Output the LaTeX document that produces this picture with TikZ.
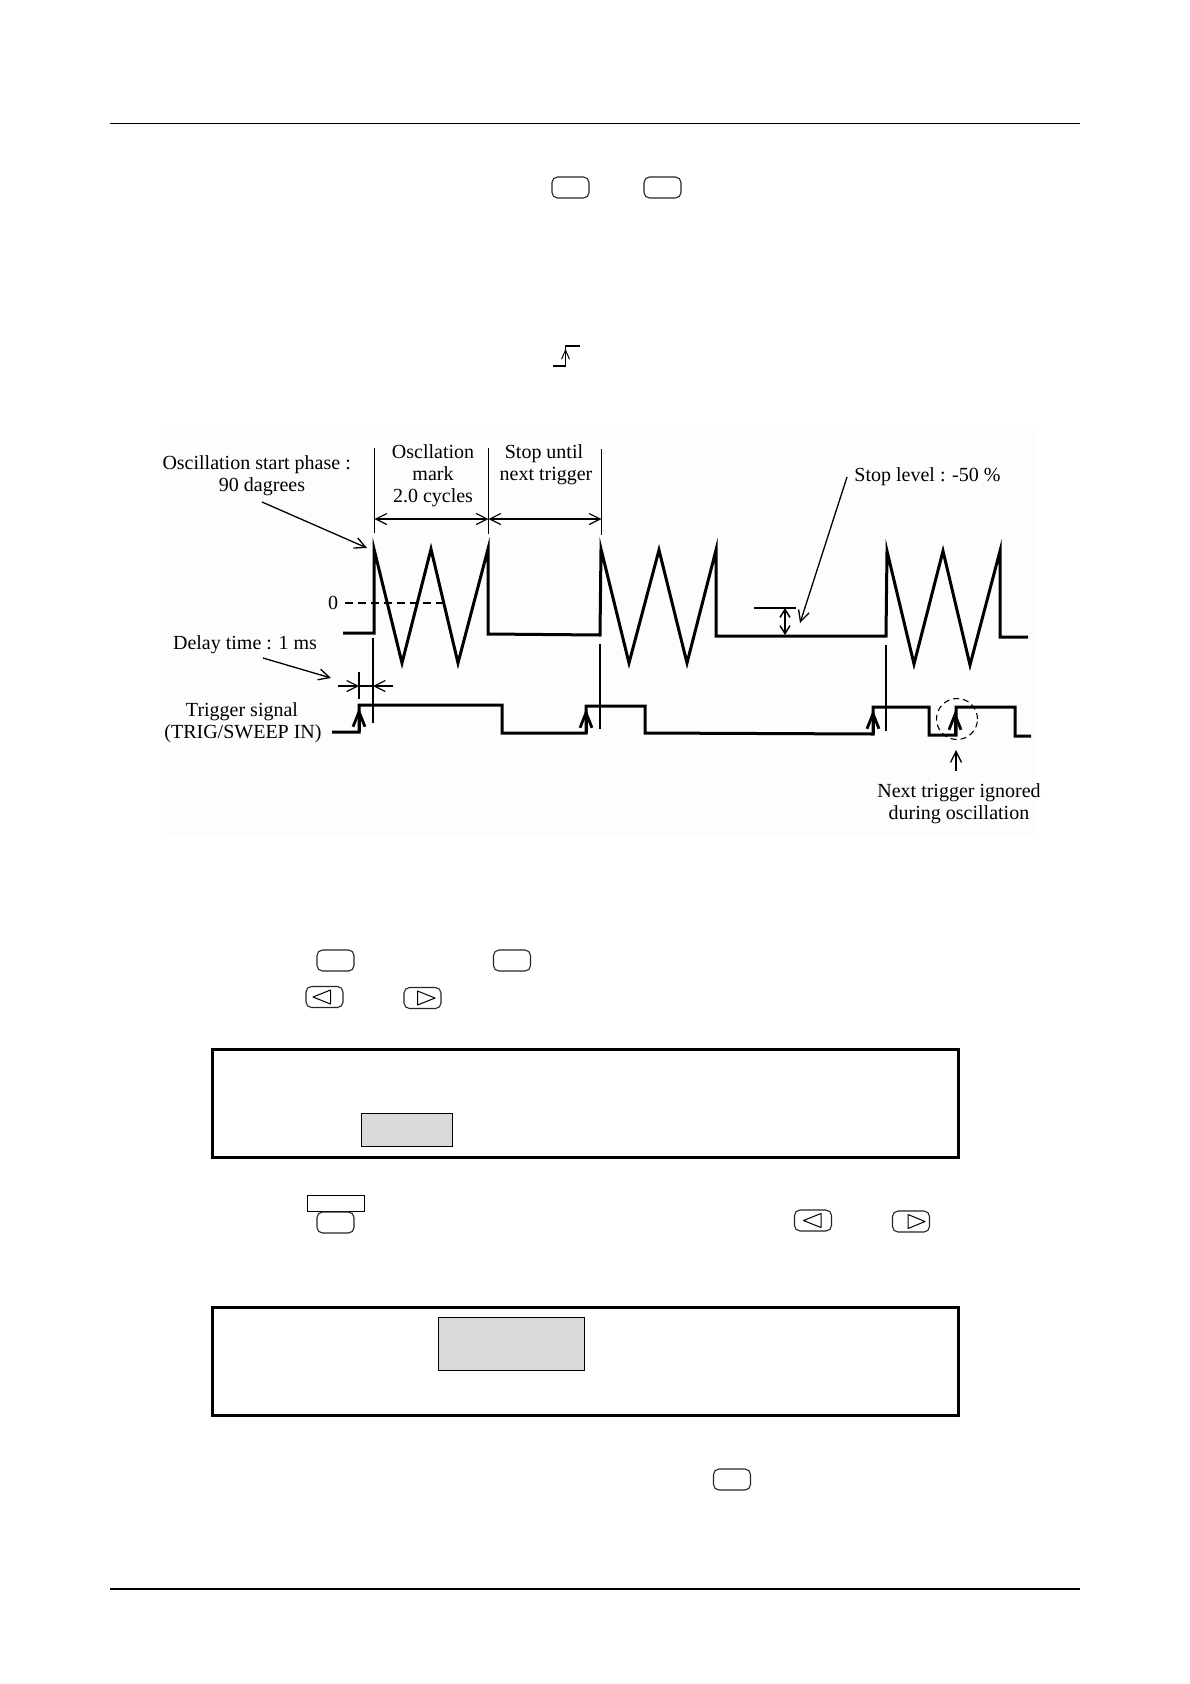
\documentclass[tikz,border=0pt]{standalone}
\usepackage{fontspec}
\setmainfont{Liberation Serif}
\usetikzlibrary{arrows.meta}
\tikzset{
  lbl/.style={inner sep=0pt,align=center,font=\fontsize{20}{22}\selectfont},
  thinline/.style={line width=1.2pt,black},
  pointer/.style={line width=1.3pt,black,-{Straight Barb[length=11pt,width=11pt,line width=1.3pt]}},
  dimline/.style={line width=1.2pt,black,{Straight Barb[length=11pt,width=11pt,line width=1.2pt]}-{Straight Barb[length=11pt,width=11pt,line width=1.2pt]}},
  wave/.style={line width=3pt,black,line join=miter,miter limit=10},
  trigtip/.style={line width=3pt,black,-{Straight Barb[length=15pt,width=12pt,line width=2.8pt]}},
  keycap/.style={draw=black!85,line width=1.1pt,rounded corners=5.5pt,minimum width=37pt,minimum height=21pt,inner sep=0pt,fill=white},
  lcdbox/.style={draw=black,line width=2.8pt,inner sep=0pt,minimum width=745.5pt,minimum height=107.5pt},
  hilite/.style={draw=black,line width=0.9pt,fill=black!15,inner sep=0pt},
  rule/.style={line width=1.2pt,black}
}
\begin{document}
\begin{tikzpicture}[x=1pt,y=-1pt]
\useasboundingbox (0,0) rectangle (1190,1684);
\fill[white] (0,0) rectangle (1190,1684);
\fill[black!0.6] (161,430) rectangle (1036,835);

% page rules
\coordinate (ruleTL) at (110,123.5); \coordinate (ruleTR) at (1080,123.5);
\coordinate (ruleBL) at (110,1589); \coordinate (ruleBR) at (1080,1589);
\draw[rule] (ruleTL) -- (ruleTR);
\draw[rule] (ruleBL) -- (ruleBR);

% key caps, top
\node[keycap] (keyA) at (570.5,187.5) {};
\node[keycap] (keyB) at (662.5,187.5) {};

% rising edge icon
\coordinate (edgeA) at (553,366);
\coordinate (edgeB) at (565.5,366);
\coordinate (edgeC) at (565.5,346);
\coordinate (edgeD) at (580,346);
\draw[line width=1.2pt] (edgeA) -- (edgeB) -- (edgeC) -- (edgeD);
\draw[line width=1pt,-{Straight Barb[length=9pt,width=8pt,line width=1pt]}] (edgeB) -- (565.5,349);

% labels
\node[lbl] (phase) at (262,476) {Oscillation start phase :\hspace*{10.7pt}\\90 dagrees};
\node[lbl] (mark) at (433,476) {Oscllation\\mark\\2.0 cycles};
\node[lbl] (stopuntil) at (546,465) {Stop until\hspace*{4pt}\\next trigger};
\node[lbl] (stoplevel) at (927.5,477) {Stop level : -50 \%};
\node[lbl] (zero) at (333,603) {0};
\node[lbl] (delay) at (245,645) {Delay time : 1 ms};
\node[lbl] (trigger) at (243,723) {Trigger signal\hspace*{2pt}\\(TRIG/SWEEP IN)};
\node[lbl] (ignored) at (959,804) {Next trigger ignored\\during oscillation};

% period markers
\coordinate (m1t) at (374.5,448); \coordinate (m1b) at (374.5,533);
\coordinate (m2t) at (488.5,448); \coordinate (m2b) at (488.5,534);
\coordinate (m3t) at (601.5,449); \coordinate (m3b) at (601.5,535);
\draw[thinline] (m1t) -- (m1b);
\draw[thinline] (m2t) -- (m2b);
\draw[thinline] (m3t) -- (m3b);
\coordinate (d1) at (374.5,519); \coordinate (d2) at (488.5,519); \coordinate (d3) at (601.5,519);
\draw[dimline] (d1) -- (d2);
\draw[dimline] (d2) -- (d3);

% pointers
\coordinate (phaseStart) at (262,502); \coordinate (phaseEnd) at (367,548);
\draw[pointer] (phaseStart) -- (phaseEnd);
\coordinate (delayStart) at (263,658); \coordinate (delayEnd) at (331,678);
\draw[pointer] (delayStart) -- (delayEnd);
\coordinate (stopStart) at (847,477); \coordinate (stopEnd) at (800,623);
\draw[pointer] (stopStart) -- (stopEnd);
\coordinate (ignStart) at (956,771); \coordinate (ignEnd) at (956,750);
\draw[pointer] (ignStart) -- (ignEnd);

% zero line
\coordinate (zeroA) at (345,603); \coordinate (zeroB) at (445,603);
\draw[line width=1.1pt,dash pattern=on 8pt off 5pt] (zeroA) -- (zeroB);

% oscillation waveform
\draw[wave] (343,633) -- (374,633) -- (374,549) -- (402,663) -- (431,549) -- (458,663) -- (488,549)
  -- (488,634) -- (600,635) -- (601,549) -- (629,663) -- (659,550) -- (687,663) -- (716,550)
  -- (716,636) -- (886,636) -- (887,551) -- (914,664) -- (943,551) -- (970,665) -- (1000,551)
  -- (1000,637) -- (1028,637);

% stop level marker
\coordinate (lvlA) at (754,608); \coordinate (lvlB) at (796,608);
\draw[thinline] (lvlA) -- (lvlB);
\coordinate (lvlT) at (785,608); \coordinate (lvlL) at (785,635);
\draw[line width=1.6pt,{Straight Barb[length=8pt,width=10pt,line width=1.5pt]}-{Straight Barb[length=8pt,width=10pt,line width=1.5pt]}] (lvlT) -- (lvlL);

% trigger markers
\draw[thinline] (373,638) -- (373,723);
\draw[thinline] (359,672) -- (359,699);
\draw[thinline] (600,644) -- (600,729);
\draw[thinline] (886,645) -- (886,731);

% delay dimension
\coordinate (dlA) at (338,686); \coordinate (dlB) at (359,686);
\coordinate (dlC) at (373,686); \coordinate (dlD) at (393,686);
\draw[line width=1.2pt,-{Straight Barb[length=11pt,width=11pt,line width=1.2pt]}] (dlA) -- (dlB);
\draw[line width=1.2pt,-{Straight Barb[length=11pt,width=11pt,line width=1.2pt]}] (dlD) -- (dlC);
\draw[thinline] (dlB) -- (dlC);

% trigger waveform
\draw[wave] (332,732) -- (359,732) -- (359,705) -- (502,705) -- (502,733) -- (586,733) -- (586,706)
  -- (645,706) -- (645,733) -- (873,734) -- (873,707) -- (929,707) -- (929,735) -- (956,735)
  -- (956,707) -- (1015,707) -- (1015,736) -- (1031,736);

% trigger arrows
\draw[trigtip] (359,732) -- (359,708);
\draw[trigtip] (586,733) -- (586,709);
\draw[trigtip] (873,734) -- (873,710);
\draw[trigtip] (955,735) -- (955,711);

% dashed circle
\node[draw=black,line width=1.1pt,dash pattern=on 6pt off 4pt,circle,minimum size=41pt,inner sep=0pt] (ignoredMark) at (957,719) {};

% key caps, middle
\node[keycap] (keyC) at (335.5,960.5) {};
\node[keycap] (keyD) at (512,960.5) {};
\node[keycap] (keyL1) at (324.5,997) {};
\draw[line width=1pt,line join=round] (330.5,990) -- (313,997) -- (330.5,1004) -- cycle;
\node[keycap] (keyR1) at (422.5,998) {};
\draw[line width=1pt,line join=round] (417.5,991) -- (435,998) -- (417.5,1005) -- cycle;

% display 1
\node[lcdbox] (lcdA) at (585.5,1103.5) {};
\node[hilite,minimum width=91.5pt,minimum height=33pt] (hlA) at (407,1129.5) {};

% keys, lower
\node[draw=black,line width=0.9pt,inner sep=0pt,minimum width=56.5pt,minimum height=16pt,fill=white] (tab) at (336,1203) {};
\node[keycap] (keyE) at (335.5,1222.5) {};
\node[keycap] (keyL2) at (813,1220.5) {};
\draw[line width=1pt,line join=round] (821,1213.5) -- (803.5,1220.5) -- (821,1227.5) -- cycle;
\node[keycap] (keyR2) at (911,1221.5) {};
\draw[line width=1pt,line join=round] (908,1214.5) -- (925,1221.5) -- (908,1228.5) -- cycle;

% display 2
\node[lcdbox] (lcdB) at (585.5,1361.5) {};
\node[hilite,minimum width=146pt,minimum height=53pt] (hlB) at (511,1343.5) {};

% last key
\node[keycap] (keyF) at (732,1479.5) {};
\end{tikzpicture}
\end{document}
